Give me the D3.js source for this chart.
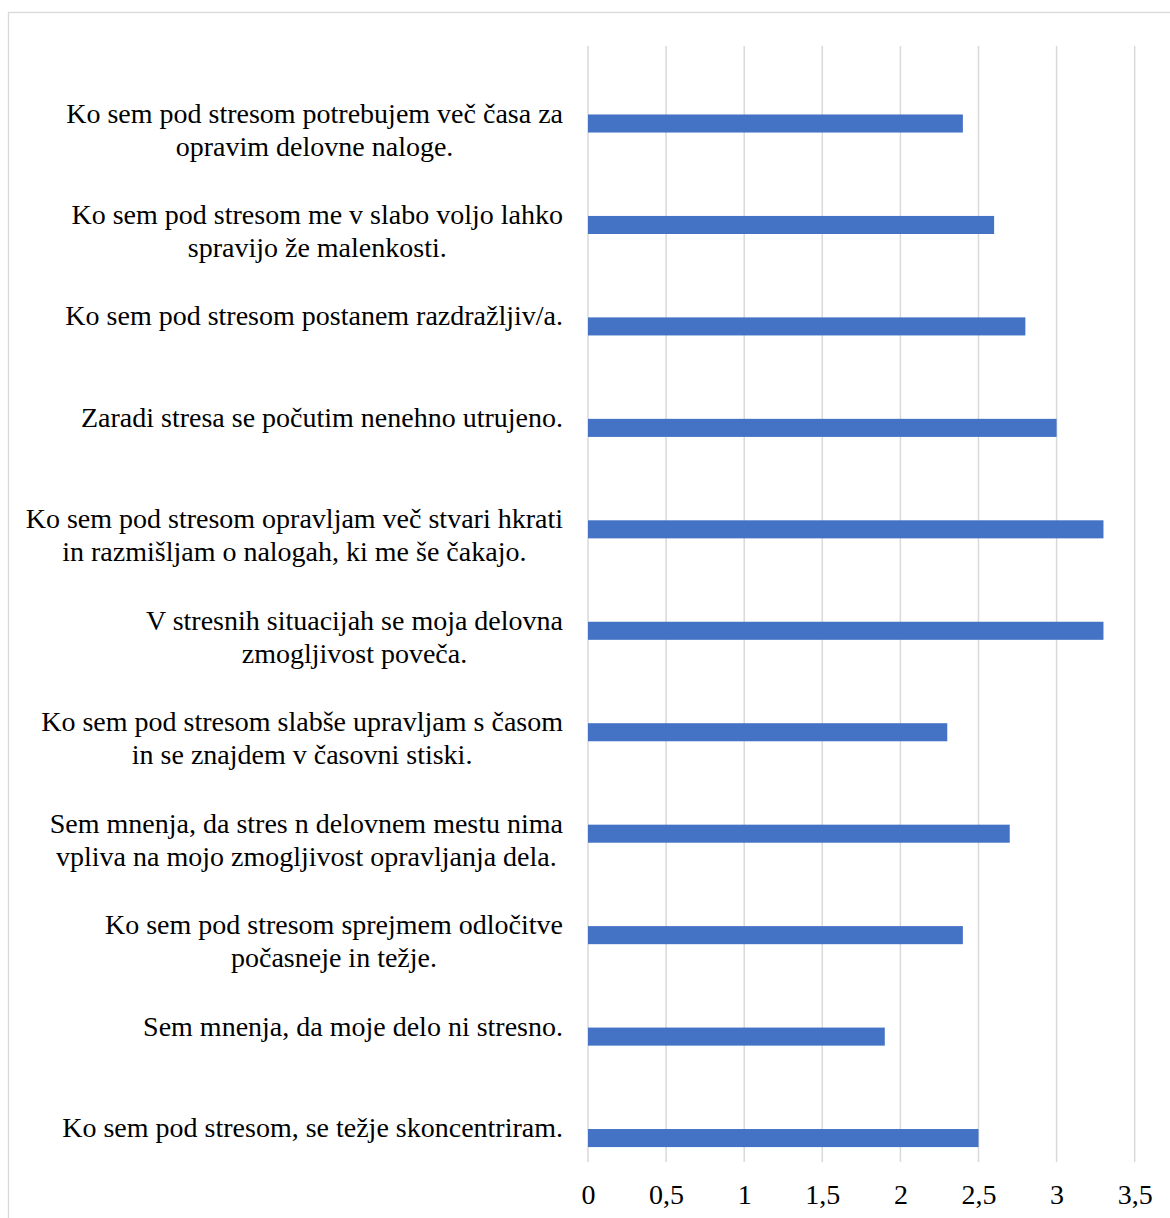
<!DOCTYPE html>
<html>
<head>
<meta charset="utf-8">
<script src="https://cdn.jsdelivr.net/npm/d3@7"></script>
<style>
  html, body { margin: 0; padding: 0; background: #fff; }
  svg text { font-family: "Liberation Serif", "Times New Roman", serif; fill: #000; }
</style>
</head>
<body>
<svg id="chart" width="1170" height="1218"></svg>
<script>
// Survey statements (top to bottom); "\n" marks a line break in the label
const categories = [
  "Ko sem pod stresom potrebujem več časa za\nopravim delovne naloge.",
  "Ko sem pod stresom me v slabo voljo lahko\nspravijo že malenkosti.",
  "Ko sem pod stresom postanem razdražljiv/a.",
  "Zaradi stresa se počutim nenehno utrujeno.",
  "Ko sem pod stresom opravljam več stvari hkrati\nin razmišljam o nalogah, ki me še čakajo.",
  "V stresnih situacijah se moja delovna\nzmogljivost poveča.",
  "Ko sem pod stresom slabše upravljam s časom\nin se znajdem v časovni stiski.",
  "Sem mnenja, da stres n delovnem mestu nima\nvpliva na mojo zmogljivost opravljanja dela.",
  "Ko sem pod stresom sprejmem odločitve\npočasneje in težje.",
  "Sem mnenja, da moje delo ni stresno.",
  "Ko sem pod stresom, se težje skoncentriram."
];
// Mean agreement score per statement
const values = [2.4, 2.6, 2.8, 3.0, 3.3, 3.3, 2.3, 2.7, 2.4, 1.9, 2.5];
// Axis ticks
const tickValues = [0, 0.5, 1, 1.5, 2, 2.5, 3, 3.5];

const svg = d3.select("#chart");
const fmt = v => String(v).replace(".", ",");

// Light frame around the chart area
svg.append("rect")
  .attr("x", 8.5).attr("y", 12.5)
  .attr("width", 1200).attr("height", 1250)
  .attr("fill", "none").attr("stroke", "#d9d9d9").attr("stroke-width", 1.3);

const plotTop = 46, plotBottom = 1162;
const x = d3.scaleLinear().domain([0, 3.5]).range([588, 1134.7]);
const y = d3.scaleBand().domain(categories).range([plotTop, plotBottom]);

// Vertical gridlines
svg.append("g").selectAll("line")
  .data(tickValues).join("line")
  .attr("x1", d => x(d)).attr("x2", d => x(d))
  .attr("y1", plotTop).attr("y2", plotBottom)
  .attr("stroke", "#d9d9d9").attr("stroke-width", 1.5);

// Bars sit in the lower part of each category band
const barOffset = y.step() * 0.675;
const barHeight = y.step() * 0.178;
svg.append("g").selectAll("rect")
  .data(categories).join("rect")
  .attr("x", x(0))
  .attr("y", d => y(d) + barOffset)
  .attr("width", (d, i) => x(values[i]) - x(0))
  .attr("height", barHeight)
  .attr("fill", "#4472c4");

// Category labels: lines centred within a block right-aligned to the axis
const labelRight = 563;
const lineGap = 33;
const labels = svg.append("g").attr("font-size", 28);
categories.forEach(c => {
  const lines = c.split("\n");
  const baseY = y(c) + barOffset + barHeight / 2 - 1;
  const g = labels.append("g");
  const texts = lines.map((ln, k) => g.append("text")
    .attr("y", baseY + k * lineGap)
    .attr("text-anchor", "middle")
    .text(ln));
  const maxW = d3.max(texts, t => t.node().getComputedTextLength());
  texts.forEach(t => t.attr("x", labelRight - maxW / 2));
});

// Value axis labels along the bottom
const axis = d3.axisBottom(x).tickValues(tickValues).tickFormat(fmt).tickSize(0).tickPadding(0);
const axG = svg.append("g").attr("transform", "translate(0,1204)").call(axis);
axG.select(".domain").remove();
axG.selectAll("text")
  .attr("dy", 0).attr("y", 0)
  .attr("font-size", 28)
  .attr("font-family", "Liberation Serif, Times New Roman, serif")
  .attr("fill", "#000");
</script>
</body>
</html>
